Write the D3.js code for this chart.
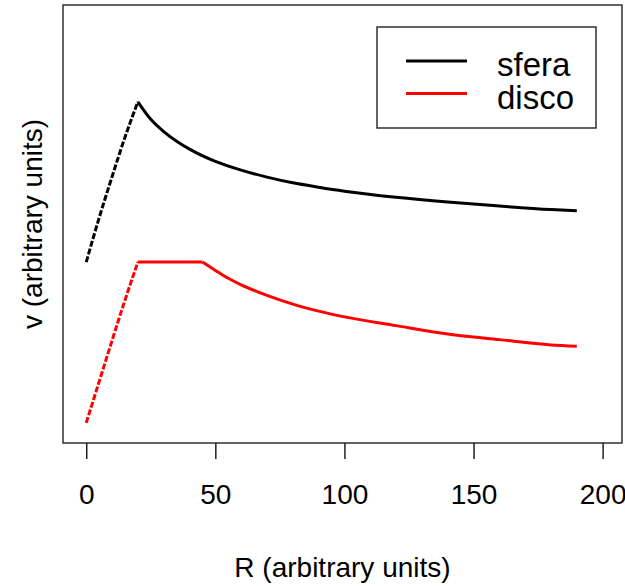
<!DOCTYPE html>
<html lang="en">
<head>
    <meta charset="UTF-8">
    <title>v vs R: sfera / disco</title>
    <script src="https://d3js.org/d3.v7.min.js"></script>
    <style>
        body { margin: 0; background: #fff; }
        svg { display: block; font-family: "Liberation Sans", Arial, sans-serif; }
        .frame { fill: none; stroke: #222; stroke-width: 1.4px; }
        .curve { fill: none; stroke-width: 3px; stroke-linejoin: round; }
    </style>
</head>
<body>
    <div id="chart"></div>

    <script>
        // values (v in arbitrary units)
        const rSfera = [0, 5, 10, 15, 20, 25, 30, 35, 40, 50, 60, 70, 80, 90, 100, 120, 140, 160, 180, 190];
        const vSfera = [41.3, 51.4, 60.8, 69.8, 77.9, 73.9, 71.1, 68.9, 67.1, 64.3, 62.3, 60.7, 59.4, 58.4, 57.5, 56.1, 55.0, 54.1, 53.3, 53.0];

        const rDisco = [0, 5, 10, 15, 20, 45, 50, 55, 60, 70, 80, 90, 100, 120, 140, 160, 180, 190];
        const vDisco = [4.6, 14.0, 23.4, 32.6, 41.3, 41.3, 39.4, 37.6, 36.1, 33.7, 31.7, 30.1, 28.8, 26.8, 24.9, 23.6, 22.4, 22.1];

        const seriesNames = ["sfera", "disco"];
        const seriesColors = ["#000000", "#ff0000"];
        // R values where the curve has a corner
        const kinks = [[20], [20, 45]];

        const xTicks = [0, 50, 100, 150, 200];
        const xLabel = "R (arbitrary units)";
        const yLabel = "v (arbitrary units)";

        const width = 625;
        const height = 586;
        const box = { left: 63, right: 622, top: 5, bottom: 443 };

        const x = d3.scaleLinear().domain([-9, 207.5]).range([box.left, box.right]);
        const y = d3.scaleLinear().domain([0, 100]).range([box.bottom, box.top]);

        const svg = d3.select("#chart").append("svg")
            .attr("width", width)
            .attr("height", height);

        const series = seriesNames.map((name, i) => {
            const rs = i === 0 ? rSfera : rDisco;
            const vs = i === 0 ? vSfera : vDisco;
            return { name, color: seriesColors[i], kinks: kinks[i], points: rs.map((r, j) => ({ r, v: vs[j] })) };
        });

        const line = d3.line()
            .x(d => x(d.r))
            .y(d => y(d.v))
            .curve(d3.curveMonotoneX);

        series.forEach(s => {
            // split at the corners so the peak stays sharp
            const cuts = [s.points[0].r, ...s.kinks, s.points[s.points.length - 1].r];
            for (let k = 0; k < cuts.length - 1; k++) {
                const seg = s.points.filter(p => p.r >= cuts[k] && p.r <= cuts[k + 1]);
                svg.append("path")
                    .attr("class", "curve")
                    .attr("stroke", s.color)
                    .attr("stroke-dasharray", k === 0 ? "6 2" : null)
                    .attr("d", line(seg));
            }
        });

        // frame
        svg.append("rect")
            .attr("class", "frame")
            .attr("x", box.left)
            .attr("y", box.top)
            .attr("width", box.right - box.left)
            .attr("height", box.bottom - box.top);

        // x axis
        const xAxis = svg.append("g")
            .attr("transform", `translate(0,${box.bottom})`)
            .call(d3.axisBottom(x).tickValues(xTicks).tickSize(16).tickPadding(25));
        xAxis.select(".domain").remove();
        xAxis.selectAll("line").attr("stroke", "#111").attr("stroke-width", 1.4);
        xAxis.selectAll("text")
            .attr("fill", "#000")
            .style("font-size", "28px")
            .style("font-family", "'Liberation Sans', Arial, sans-serif");

        svg.append("text")
            .attr("x", (box.left + box.right) / 2)
            .attr("y", 577)
            .attr("text-anchor", "middle")
            .style("font-size", "28px")
            .text(xLabel);

        svg.append("text")
            .attr("transform", `translate(42,${(box.top + box.bottom) / 2}) rotate(-90)`)
            .attr("text-anchor", "middle")
            .style("font-size", "28px")
            .text(yLabel);

        // legend
        const legend = svg.append("g");
        legend.append("rect")
            .attr("class", "frame")
            .attr("x", 377)
            .attr("y", 27)
            .attr("width", 219)
            .attr("height", 101);

        const legendRows = legend.selectAll(".row")
            .data(series)
            .enter().append("g")
            .attr("class", "row")
            .attr("transform", (d, i) => `translate(0,${61 + i * 32.5})`);

        legendRows.append("line")
            .attr("x1", 406)
            .attr("x2", 467)
            .attr("stroke", d => d.color)
            .attr("stroke-width", 3);

        legendRows.append("text")
            .attr("x", 497)
            .attr("y", 15)
            .style("font-size", "33px")
            .text(d => d.name);
    </script>
</body>
</html>
